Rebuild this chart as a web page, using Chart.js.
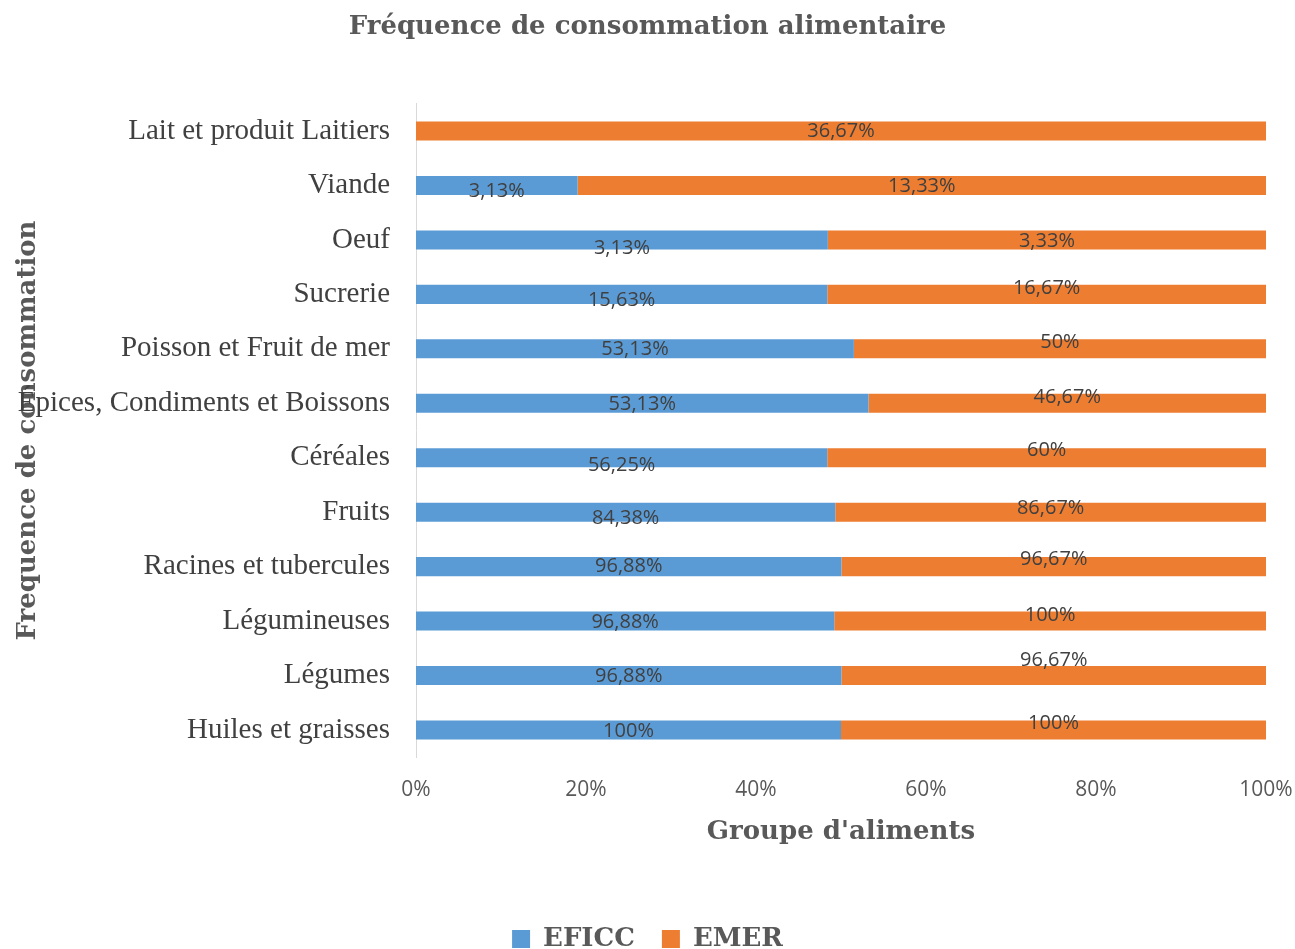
<!DOCTYPE html>
<html lang="fr">
<head>
<meta charset="utf-8">
<title>Fréquence de consommation alimentaire</title>
<script src="https://cdn.jsdelivr.net/npm/chart.js@4.4.1/dist/chart.umd.min.js"></script>
<style>
    html, body { margin: 0; padding: 0; background: #fff; overflow: hidden; }
    #wrap { width: 1295px; height: 949px; }
</style>
</head>
<body>
<div id="wrap"><canvas id="foodChart" width="1295" height="949"></canvas></div>
<script>
// Food groups, top to bottom
const categories = [
    'Lait et produit Laitiers',
    'Viande',
    'Oeuf',
    'Sucrerie',
    'Poisson et Fruit de mer',
    'Épices, Condiments et Boissons',
    'Céréales',
    'Fruits',
    'Racines et tubercules',
    'Légumineuses',
    'Légumes',
    'Huiles et graisses'
];

// Consumption frequency (%) per survey group
const eficcValues = [null, 3.13, 3.13, 15.63, 53.13, 53.13, 56.25, 84.38, 96.88, 96.88, 96.88, 100];
const emerValues = [36.67, 13.33, 3.33, 16.67, 50, 46.67, 60, 86.67, 96.67, 100, 96.67, 100];

const xTicks = [0, 20, 40, 60, 80, 100];

// small vertical nudges for the value labels (px)
const eficcLabelShift = [0, 6, 8, 6, 0, 1, 8, 6, 0, 1, 1, 1];
const emerLabelShift = [0, 1, 1, -6, -7, -6, -7, -4, -7, -6, -15, -7];

const BLUE = '#5B9BD5';
const ORANGE = '#ED7D31';
const GREY = '#595959';

// 100% stacked: each row is split in proportion of its two values
const toShare = (a, b) => a.map((v, i) => {
    const total = (v || 0) + (b[i] || 0);
    return total ? ((v || 0) / total) * 100 : 0;
});

const fmtPct = v => String(v).replace('.', ',') + '%';

const valueLabels = {
    id: 'valueLabels',
    afterDatasetsDraw(chart) {
        const ctx = chart.ctx;
        const raws = [eficcValues, emerValues];
        const shifts = [eficcLabelShift, emerLabelShift];
        ctx.save();
        ctx.font = '20px "Open Sans"';
        ctx.fillStyle = '#404040';
        ctx.textAlign = 'center';
        ctx.textBaseline = 'middle';
        chart.data.datasets.forEach((ds, di) => {
            chart.getDatasetMeta(di).data.forEach((bar, i) => {
                const raw = raws[di][i];
                if (raw === null || raw === undefined) return;
                const cx = (bar.x + bar.base) / 2;
                ctx.fillText(fmtPct(raw), cx, bar.y + shifts[di][i]);
            });
        });
        ctx.restore();
    }
};

new Chart(document.getElementById('foodChart'), {
    type: 'bar',
    data: {
        labels: categories,
        datasets: [
            {
                label: 'EFICC',
                data: toShare(eficcValues, emerValues),
                backgroundColor: BLUE,
                barPercentage: 0.35,
                categoryPercentage: 1
            },
            {
                label: 'EMER',
                data: toShare(emerValues, eficcValues),
                backgroundColor: ORANGE,
                barPercentage: 0.35,
                categoryPercentage: 1
            }
        ]
    },
    options: {
        indexAxis: 'y',
        responsive: false,
        animation: false,
        layout: { padding: { left: 0, right: 0, top: 0, bottom: -13 } },
        scales: {
            x: {
                stacked: true,
                min: 0,
                max: 100,
                afterBuildTicks: s => { s.ticks = xTicks.map(v => ({ value: v })); },
                afterFit: s => {
                    s.height = 141.8;
                    s.paddingLeft = 0;
                    s.paddingRight = 29; // keeps room for the "100%" label
                },
                grid: { display: false, drawTicks: false },
                border: { display: false },
                ticks: {
                    padding: 20,
                    color: GREY,
                    font: { family: '"Open Sans"', size: 21 },
                    callback: v => v + '%'
                },
                title: {
                    display: true,
                    text: "Groupe d'aliments",
                    color: GREY,
                    font: { family: '"DejaVu Serif"', size: 26, weight: 'bold' },
                    padding: { top: 0, bottom: 51 }
                }
            },
            y: {
                stacked: true,
                afterFit: s => { s.width = 416; },
                grid: { display: false, drawTicks: false },
                border: { display: true, color: '#D9D9D9', width: 1 },
                ticks: {
                    padding: 26,
                    color: '#404040',
                    font: { family: '"Liberation Serif"', size: 29 }
                },
                title: {
                    display: true,
                    text: 'Frequence de consommation',
                    color: GREY,
                    font: { family: '"DejaVu Serif"', size: 26, weight: 'bold' },
                    padding: { top: 13, bottom: 0 }
                }
            }
        },
        plugins: {
            title: {
                display: true,
                text: 'Fréquence de consommation alimentaire',
                color: GREY,
                font: { family: '"DejaVu Serif"', size: 26, weight: 'bold' },
                padding: { top: 12, bottom: 60.6 }
            },
            legend: {
                position: 'bottom',
                labels: {
                    boxWidth: 18,
                    boxHeight: 18,
                    padding: 27,
                    color: GREY,
                    font: { family: '"DejaVu Serif"', size: 26, weight: 'bold' }
                }
            },
            tooltip: { enabled: false }
        }
    },
    plugins: [valueLabels]
});
</script>
</body>
</html>
